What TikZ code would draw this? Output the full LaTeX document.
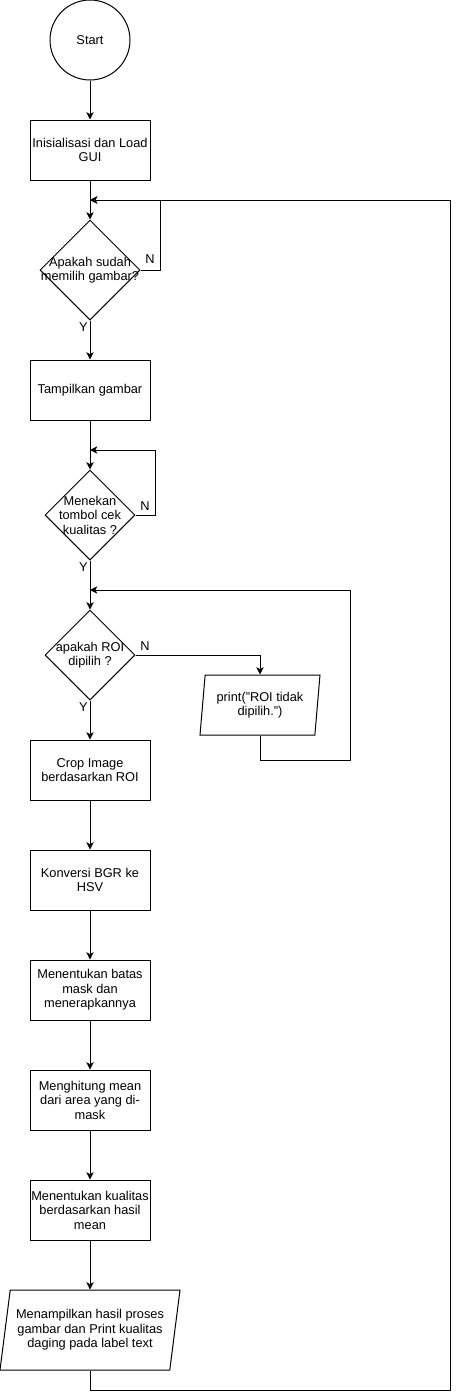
\documentclass[tikz,border=0pt]{standalone}
\usepackage{fontspec}
\setmainfont{Liberation Sans}
\usetikzlibrary{shapes.geometric,arrows.meta,positioning}

\tikzset{
    txt/.style={font=\fontsize{9.6}{10.9}\selectfont, align=center},
    arr/.style={line width=0.75pt, -{Stealth[length=5.5pt,width=5.5pt,inset=1.5pt]}},
    line/.style={line width=0.75pt},
    startnode/.style={circle, draw, line width=0.75pt, minimum size=60pt, inner sep=0pt, txt},
    procbox/.style={rectangle, draw, line width=0.75pt, minimum width=90pt, minimum height=45pt, inner sep=0pt, txt},
    decision/.style={diamond, draw, line width=0.75pt, inner sep=0pt, minimum width=#1, minimum height=#1},
    iobox/.style={trapezium, draw, line width=0.75pt, inner sep=0pt, trapezium stretches body, txt},
    lbl/.style={font=\fontsize{9.6}{10.9}\selectfont, inner sep=1.5pt}
}

\begin{document}
\begin{tikzpicture}[x=0.75pt,y=-0.75pt]
    \useasboundingbox (0,0) rectangle (459,1399);

    % Main column
    \node[startnode] (start) at (90,40) {Start};
    \node[procbox] (init) at (90,150) {Inisialisasi dan Load\\GUI};
    \node[decision=75pt, label={[txt]center:Apakah sudah\\memilih gambar?}] (q1) at (90,270) {};
    \node[procbox] (show) at (90,390) {Tampilkan gambar};
    \node[decision=67.5pt, label={[txt]center:Menekan\\tombol cek\\kualitas ?}] (q2) at (90,515) {};
    \node[decision=67.5pt, label={[txt]center:apakah ROI\\dipilih ?}] (q3) at (90,655) {};
    \node[procbox] (crop) at (90,770) {Crop Image\\berdasarkan ROI};
    \node[procbox] (hsv) at (90,880) {Konversi BGR ke\\HSV};
    \node[procbox] (mask) at (90,990) {Menentukan batas\\mask dan\\menerapkannya};
    \node[procbox] (mean) at (90,1100) {Menghitung mean\\dari area yang di-\\mask};
    \node[procbox] (grade) at (90,1210) {Menentukan kualitas\\berdasarkan hasil\\mean};
    \node[iobox, trapezium left angle=76, trapezium right angle=104,
          minimum width=135pt, minimum height=60pt] (result) at (90,1330)
          {Menampilkan hasil proses\\gambar dan Print kualitas\\daging pada label text};

    % Side output
    \node[iobox, trapezium left angle=79, trapezium right angle=101,
          minimum width=90pt, minimum height=45pt] (warn) at (260,705)
          {print("ROI tidak\\dipilih.")};

    % Merge points
    \coordinate (m1) at (90,200);
    \coordinate (m2) at (90,450);
    \coordinate (m3) at (90,590);
    \coordinate (r1) at (450,200);
    \coordinate (r3) at (350,590);

    % Flow
    \draw[arr] (start) -- (init);
    \draw[arr] (init) -- (q1);
    \draw[arr] (q1.east) -- ++(20,0) |- (m1);
    \draw[arr] (q1) -- (show);
    \draw[arr] (show) -- (q2);
    \draw[arr] (q2.east) -- ++(20,0) |- (m2);
    \draw[arr] (q2) -- (q3);
    \draw[arr] (q3.east) -| (warn.north);
    \draw[arr] (warn.south) -- ++(0,25) -| (r3) -- (m3);
    \draw[arr] (q3) -- (crop);
    \draw[arr] (crop) -- (hsv);
    \draw[arr] (hsv) -- (mask);
    \draw[arr] (mask) -- (mean);
    \draw[arr] (mean) -- (grade);
    \draw[arr] (grade) -- (result);
    \draw[arr] (result.south) -- ++(0,20) -| (r1) -- (m1);

    % Labels
    \node[lbl, above right=3pt and 2pt of q1.east] (n1) {N};
    \node[lbl, below left=0pt and 0pt of q1.south] (y1) {Y};
    \node[lbl, above right=1.5pt and 2pt of q2.east] (n2) {N};
    \node[lbl, below left=0pt and 0pt of q2.south] (y2) {Y};
    \node[lbl, above right=1.5pt and 2pt of q3.east] (n3) {N};
    \node[lbl, below left=0pt and 0pt of q3.south] (y3) {Y};
\end{tikzpicture}
\end{document}
